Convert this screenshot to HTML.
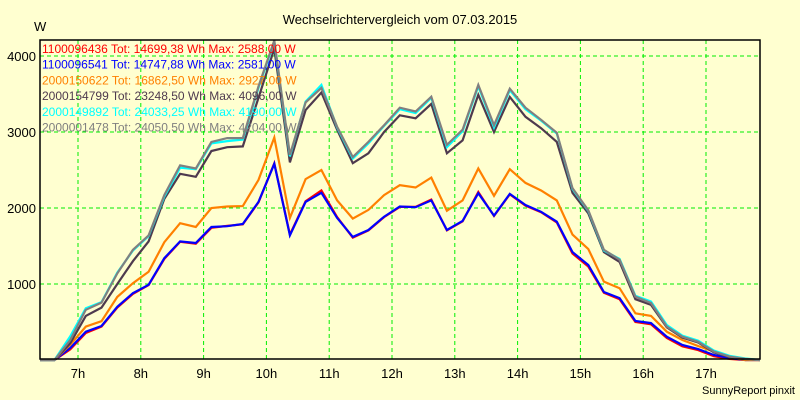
<!DOCTYPE html>
<html><head><meta charset="utf-8"><style>
html,body{margin:0;padding:0;background:#ffffd0;}
svg{display:block;font-family:"Liberation Sans",sans-serif;}
</style></head><body>
<svg id="chart" width="800" height="400" viewBox="0 0 800 400">
<rect x="0" y="0" width="800" height="400" fill="#ffffd0"/>
<text x="400" y="24" text-anchor="middle" font-size="13" fill="#000">Wechselrichtervergleich vom 07.03.2015</text>
<text x="34" y="31" font-size="13" fill="#000">W</text>
<text x="795" y="394" text-anchor="end" font-size="11" fill="#000">SunnyReport pinxit</text>
<g id="grid"></g>
<g id="series"></g>
<rect x="40" y="40" width="720" height="319" fill="none" stroke="#000" stroke-width="1.5"/>
<g id="axes"></g>
<g id="legend"></g>
</svg>
<script>
const times=[6.375,6.625,6.875,7.125,7.375,7.625,7.875,8.125,8.375,8.625,8.875,9.125,9.375,9.625,9.875,10.125,10.375,10.625,10.875,11.125,11.375,11.625,11.875,12.125,12.375,12.625,12.875,13.125,13.375,13.625,13.875,14.125,14.375,14.625,14.875,15.125,15.375,15.625,15.875,16.125,16.375,16.625,16.875,17.125,17.375,17.625,17.875];
const red=[0,0,140,355,440,690,870,985,1330,1555,1530,1740,1765,1785,2075,2588,1650,2090,2230,1880,1610,1705,1880,2015,2015,2110,1705,1825,2210,1895,2180,2030,1945,1810,1400,1230,885,800,500,470,290,180,130,50,15,0,0];
const blue=[0,0,158,372,447,700,880,990,1340,1560,1540,1750,1760,1790,2080,2581,1640,2080,2200,1870,1620,1710,1885,2020,2010,2100,1710,1830,2195,1900,2185,2040,1950,1820,1420,1250,895,815,513,486,307,197,145,66,25,0,0];
const orange=[0,0,200,440,510,830,1010,1160,1550,1800,1750,2000,2020,2025,2370,2927,1870,2380,2500,2100,1860,1975,2170,2300,2270,2400,1965,2100,2520,2160,2510,2330,2230,2100,1650,1460,1030,945,615,580,372,263,184,110,40,0,0];
const dark=[0,0,220,580,690,1000,1300,1560,2120,2450,2410,2750,2800,2810,3450,4096,2600,3290,3520,3030,2590,2720,3000,3220,3180,3370,2720,2890,3490,3000,3460,3200,3050,2870,2200,1930,1420,1290,800,725,430,295,230,100,40,10,0];
const cyan=[0,0,310,680,760,1150,1440,1630,2150,2530,2510,2850,2880,2900,3580,4190,2680,3400,3620,3060,2650,2850,3080,3300,3250,3450,2800,3010,3600,3060,3550,3300,3150,2980,2250,1960,1440,1330,845,770,460,320,255,125,55,20,0];
const gray=[0,0,263,660,755,1140,1450,1640,2170,2560,2520,2870,2920,2920,3600,4204,2700,3390,3580,3070,2670,2870,3090,3320,3270,3465,2830,3030,3620,3090,3570,3320,3160,2990,2260,1970,1450,1320,833,750,440,307,240,110,45,15,0];
const legendLabels=["1100096436 Tot: 14699,38 Wh Max: 2588,00 W","1100096541 Tot: 14747,88 Wh Max: 2581,00 W","2000150622 Tot: 16862,50 Wh Max: 2927,00 W","2000154799 Tot: 23248,50 Wh Max: 4096,00 W","2000149892 Tot: 24033,25 Wh Max: 4190,00 W","2000001478 Tot: 24050,50 Wh Max: 4204,00 W"];
const yTicks=[1000,2000,3000,4000];
const xTicks=[7,8,9,10,11,12,13,14,15,16,17];

const NS="http://www.w3.org/2000/svg";
function xs(h){return 78+(h-7)*62.8;}
function ys(v){return 360-v*0.076;}
function mk(tag,attrs,parent){const e=document.createElementNS(NS,tag);for(const k in attrs)e.setAttribute(k,attrs[k]);parent.appendChild(e);return e;}
const grid=document.getElementById('grid'),axes=document.getElementById('axes'),ser=document.getElementById('series'),leg=document.getElementById('legend');
yTicks.forEach(v=>{
 const l=mk('line',{x1:40,x2:760,y1:ys(v),y2:ys(v),stroke:'#00ee00','stroke-dasharray':'4,3','stroke-width':1},grid);
 
 
 const t=mk('text',{x:36,y:ys(v)+5,'text-anchor':'end','font-size':13,fill:'#000'},axes);
 t.textContent=String(v);
 
 
});
xTicks.forEach(h=>{
 const l=mk('line',{x1:xs(h),x2:xs(h),y1:40,y2:359,stroke:'#00ee00','stroke-dasharray':'4,3','stroke-width':1},grid);
 
 
 const t=mk('text',{x:xs(h),y:378,'text-anchor':'middle','font-size':13,fill:'#000'},axes);
 t.textContent=h+'h';
 
 
});
const seriesList=[[red,'#ff0000','series-1100096436'],[blue,'#0000ff','series-1100096541'],[orange,'#ff8000','series-2000150622'],[dark,'#4e3a4e','series-2000154799'],[cyan,'#00ffff','series-2000149892'],[gray,'#808080','series-2000001478']];
seriesList.forEach(s=>{
 const pts=times.map((t,i)=>Math.max(40,Math.min(760,xs(t))).toFixed(1)+','+ys(s[0][i]).toFixed(1)).join(' ');
 const p=mk('polyline',{points:pts,fill:'none',stroke:s[1],'stroke-width':2.2,'stroke-linejoin':'miter'},ser);
 
 
});
legendLabels.forEach((lab,i)=>{
 const t=mk('text',{x:42,y:53+i*15.7,'font-size':12,fill:seriesList[i][1]},leg);
 t.textContent=lab;
 
 
});
</script>
</body></html>
